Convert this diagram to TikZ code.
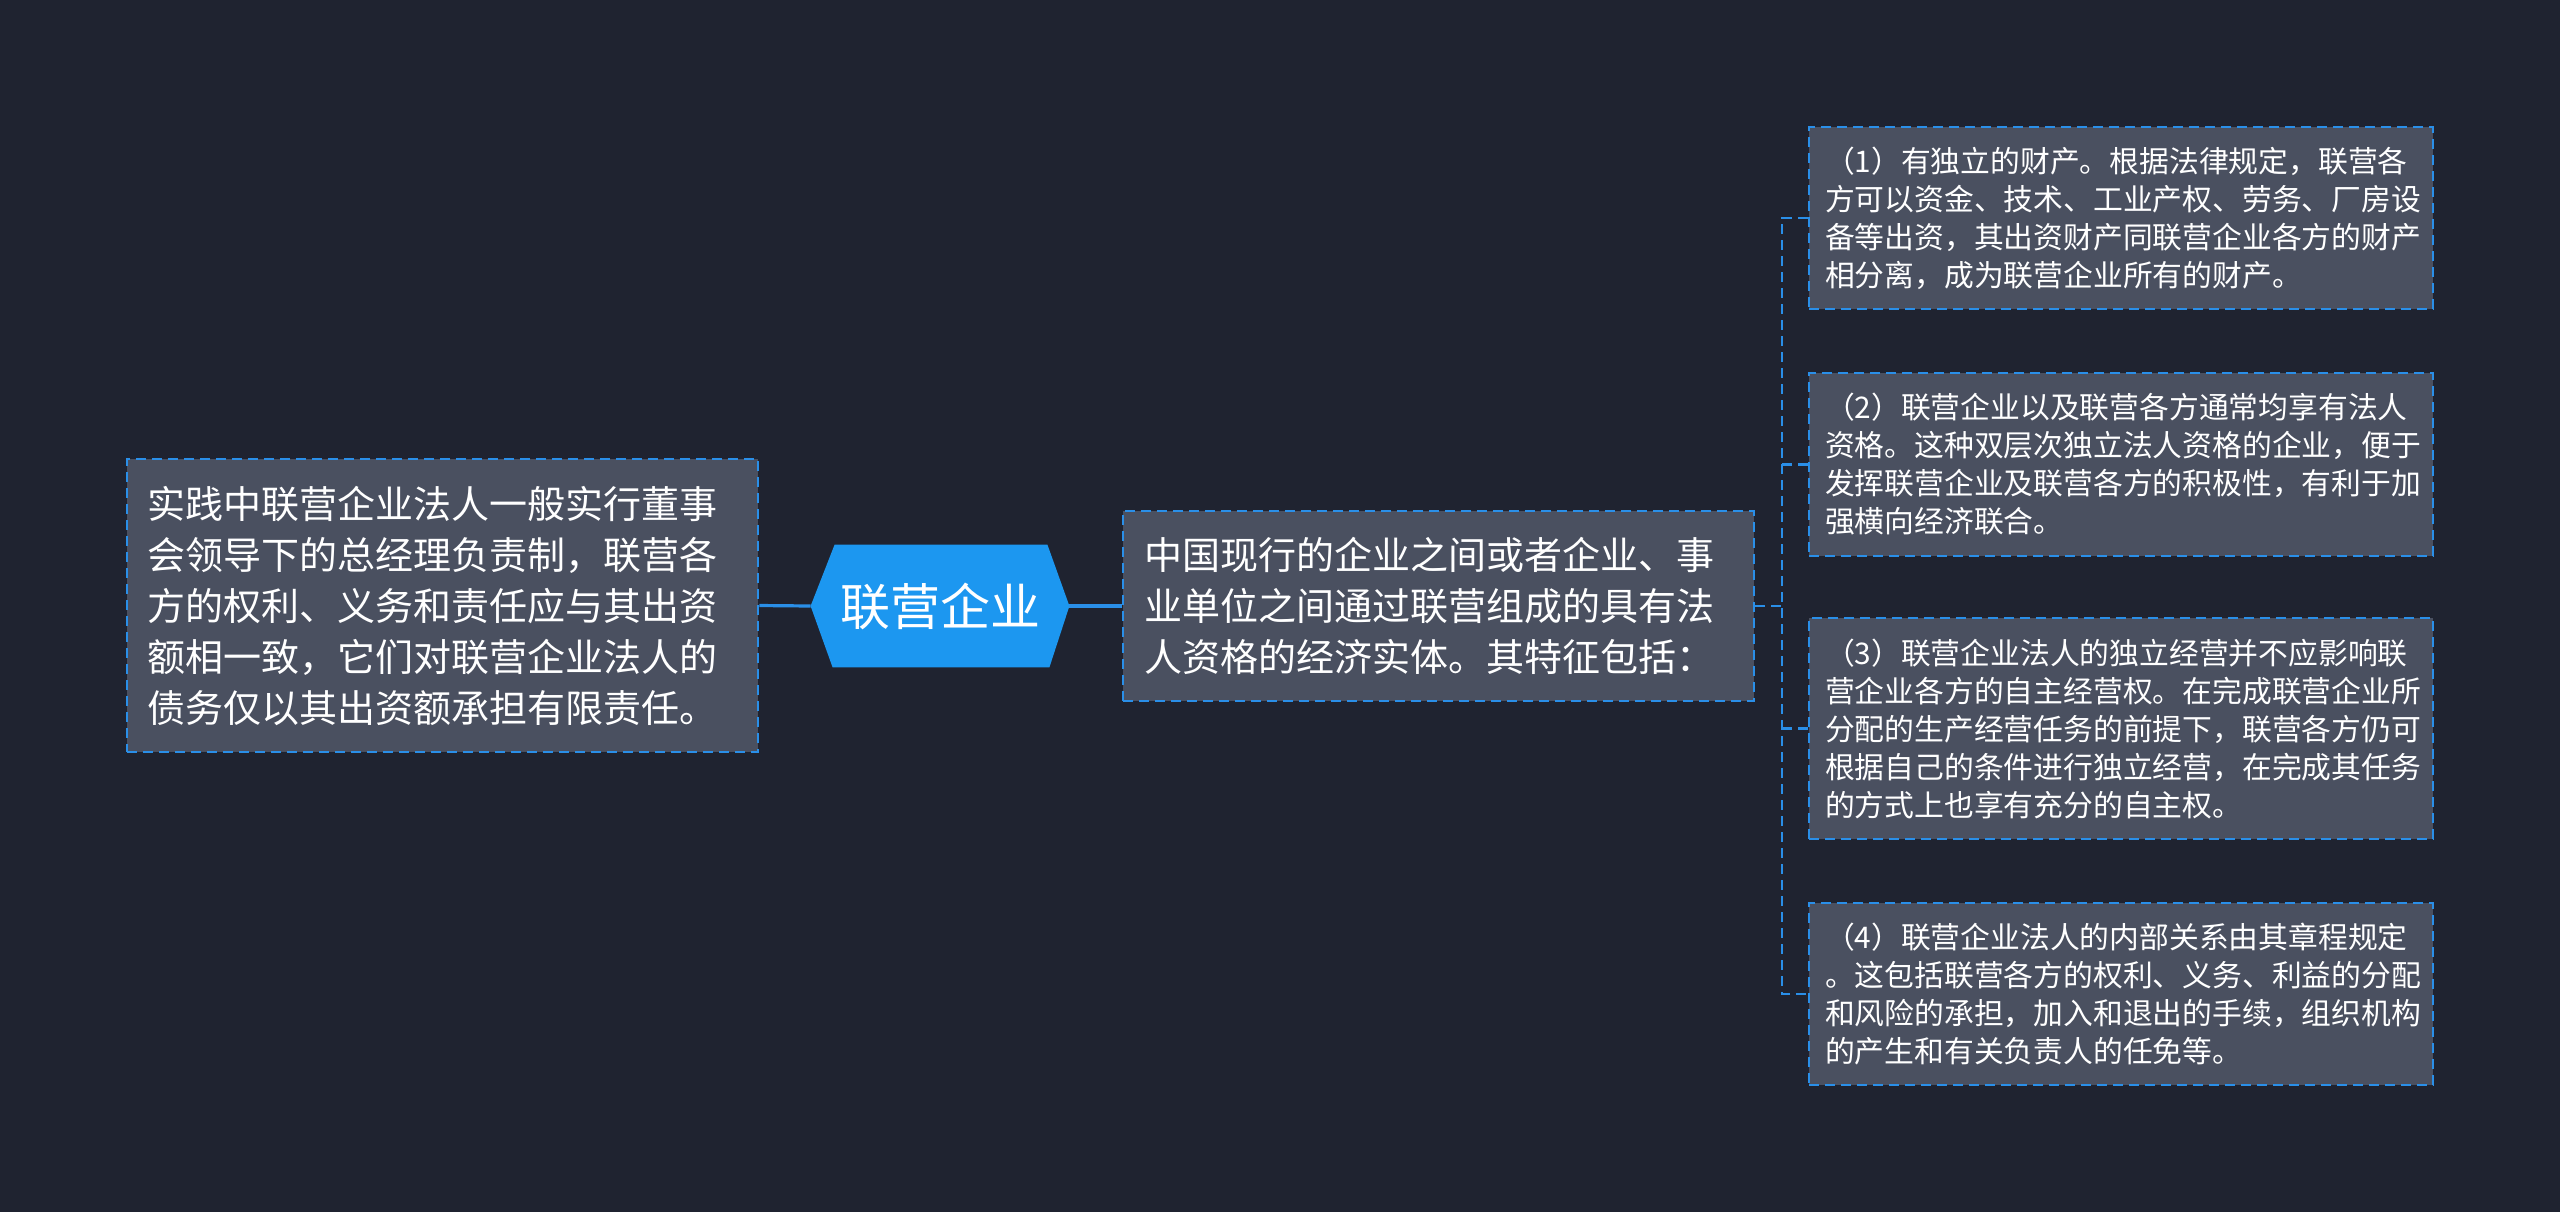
\documentclass[tikz,border=0pt]{standalone}
\usepackage{fontspec}
\setmainfont{Noto Sans CJK SC}
\definecolor{bgc}{HTML}{1F2330}
\definecolor{boxc}{HTML}{4A5060}
\definecolor{linec}{HTML}{2A8FE8}
\definecolor{hexc}{HTML}{1C97F0}
\pgfdeclarelayer{bgzero}
\pgfdeclarelayer{bgone}
\pgfsetlayers{bgzero,bgone,main}
\tikzset{
  dbox/.style={draw=linec, fill=boxc, line width=1.35pt, dash pattern=on 5pt off 3pt,
    text=white, align=left, inner sep=0pt},
  bigtxt/.style={font=\fontsize{19pt}{25.5pt}\selectfont},
  smalltxt/.style={font=\fontsize{14.9pt}{19pt}\selectfont},
  conn/.style={draw=linec, line width=1.6pt},
  dconn/.style={draw=linec, line width=1.35pt, dash pattern=on 5pt off 3pt},
}
\begin{document}
\begin{tikzpicture}[x=0.5pt,y=-0.5pt]
\begin{pgfonlayer}{bgzero}
  \fill[bgc] (0,0) rectangle (2560,1212);
\end{pgfonlayer}
\useasboundingbox (0,0) rectangle (2560,1212);

\node[dbox, bigtxt, minimum width=315.5pt, minimum height=146.5pt, text width=295pt] (left) at (442.5,605.5)
{实践中联营企业法人一般实行董事\\会领导下的总经理负责制，联营各\\方的权利、义务和责任应与其出资\\额相一致，它们对联营企业法人的\\债务仅以其出资额承担有限责任。};

\node[text=white, font=\fontsize{25pt}{30pt}\selectfont, minimum width=129pt, minimum height=61pt, inner sep=0pt] (hex) at (940,606) {联营企业};
\begin{pgfonlayer}{bgone}
  \fill[hexc] (hex.west) -- ([xshift=12pt]hex.north west) -- ([xshift=-11pt]hex.north east) -- (hex.east)
    -- ([xshift=-10pt]hex.south east) -- ([xshift=11pt]hex.south west) -- cycle;
\end{pgfonlayer}

\node[dbox, bigtxt, minimum width=315.5pt, minimum height=95pt, text width=294pt] (mid) at (1438.5,606)
{中国现行的企业之间或者企业、事\\业单位之间通过联营组成的具有法\\人资格的经济实体。其特征包括：};

\node[dbox, smalltxt, minimum width=312pt, minimum height=91pt, text width=296pt] (r1) at (2121,218)
{（1）有独立的财产。根据法律规定，联营各\\方可以资金、技术、工业产权、劳务、厂房设\\备等出资，其出资财产同联营企业各方的财产\\相分离，成为联营企业所有的财产。};

\node[dbox, smalltxt, minimum width=312pt, minimum height=91.5pt, text width=296pt] (r2) at (2121,464.5)
{（2）联营企业以及联营各方通常均享有法人\\资格。这种双层次独立法人资格的企业，便于\\发挥联营企业及联营各方的积极性，有利于加\\强横向经济联合。};

\node[dbox, smalltxt, minimum width=312pt, minimum height=110.5pt, text width=296pt] (r3) at (2121,728.5)
{（3）联营企业法人的独立经营并不应影响联\\营企业各方的自主经营权。在完成联营企业所\\分配的生产经营任务的前提下，联营各方仍可\\根据自己的条件进行独立经营，在完成其任务\\的方式上也享有充分的自主权。};

\node[dbox, smalltxt, minimum width=312pt, minimum height=91pt, text width=296pt] (r4) at (2121,994)
{（4）联营企业法人的内部关系由其章程规定\\。这包括联营各方的权利、义务、利益的分配\\和风险的承担，加入和退出的手续，组织机构\\的产生和有关负责人的任免等。};

\coordinate (tr) at (1782,606);

\draw[conn] (hex.west) -- (left.east);
\draw[conn] (hex.east) -- (mid.west);
\draw[dconn] (mid.east) -- (tr);
\draw[dconn] (r1.west) -| (tr) |- (r4.west);
\draw[dconn] (r2.west) -- (r2.west -| tr);
\draw[dconn] (r3.west) -- (r3.west -| tr);
\end{tikzpicture}
\end{document}
